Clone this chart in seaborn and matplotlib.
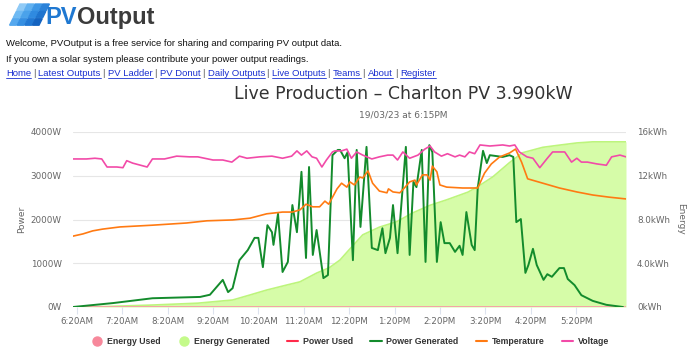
import pandas as pd
import matplotlib
matplotlib.use("Agg")
import matplotlib.pyplot as plt
from matplotlib.patches import Polygon
from matplotlib.lines import Line2D
import seaborn as sns

DAY = "2023-03-19 "

# Power generated (W)
power_times = ["06:15", "07:08", "08:00", "09:03", "09:16", "09:33", "09:40", "09:46", "09:55",
               "10:06", "10:15", "10:20", "10:26", "10:32", "10:38", "10:40", "10:46", "10:52",
               "10:59", "11:05", "11:11", "11:17", "11:23", "11:27", "11:32", "11:37", "11:46",
               "11:52", "11:58", "12:05", "12:08", "12:14", "12:18", "12:25", "12:30", "12:35",
               "12:43", "12:50", "12:58", "13:04", "13:08", "13:14", "13:18", "13:24", "13:35",
               "13:40", "13:45", "13:49", "13:56", "14:01", "14:06", "14:10", "14:16", "14:21",
               "14:26", "14:33", "14:40", "14:46", "14:50", "14:55", "15:02", "15:06", "15:10",
               "15:17", "15:22", "15:26", "15:43", "15:52", "15:57", "16:01", "16:07", "16:13",
               "16:17", "16:23", "16:28", "16:37", "16:42", "16:48", "16:58", "17:04", "17:09",
               "17:18", "17:27", "17:42", "18:00", "18:22"]
power_gen = [0, 90, 200, 230, 280, 620, 340, 430, 1070,
             1300, 1580, 1580, 910, 1870, 1710, 1420, 2130, 800,
             1030, 2330, 1710, 3090, 1120, 3200, 1190, 1760, 660,
             730, 3470, 3590, 3590, 3400, 3540, 1070, 3590, 1830,
             3660, 1350, 1300, 1800, 1230, 1580, 2330, 1230, 3660,
             1190, 2860, 2740, 3590, 1030, 3700, 3540, 1030, 1940,
             1460, 1460, 1260, 1400, 1190, 2170, 1420, 1300, 2720,
             3570, 3290, 3470, 3430, 3470, 3430, 1940, 2010, 780,
             960, 1330, 960, 620, 750, 690, 890, 890, 640,
             500, 270, 140, 50, 0]

# Energy generated (kWh)
energy_times = ["06:15", "07:00", "08:00", "09:00", "09:46", "10:09", "10:31", "10:57", "11:15",
                "11:37", "11:54", "12:08", "12:17", "12:38", "13:00", "13:23", "13:44", "14:07",
                "14:29", "14:57", "15:10", "15:30", "15:52", "16:09", "16:36", "16:58", "17:21",
                "17:42", "18:26"]
energy_gen = [0.0, 0.05, 0.18, 0.35, 0.64, 1.1, 1.55, 2.0, 2.3,
              3.1, 3.6, 4.3, 5.0, 6.6, 7.3, 7.8, 8.6, 9.3,
              9.8, 10.5, 11.0, 11.9, 13.2, 14.1, 14.6, 14.8, 15.0,
              15.1, 15.1]

# Temperature (C)
temp_times = ["06:15", "06:28", "06:41", "06:54", "07:17", "08:00", "08:45", "09:12", "09:46",
              "10:09", "10:31", "10:52", "11:05", "11:15", "11:23", "11:32", "11:41", "11:48",
              "11:53", "11:54", "12:04", "12:10", "12:17", "12:21", "12:27", "12:34", "12:38",
              "12:45", "12:51", "13:00", "13:10", "13:12", "13:18", "13:27", "13:33", "13:40",
              "13:47", "13:49", "13:57", "14:03", "14:07", "14:10", "14:16", "14:20", "14:29",
              "14:50", "14:59", "15:10", "15:19", "15:28", "15:39", "15:52", "16:00", "16:08",
              "16:16", "16:36", "16:58", "17:21", "17:42", "18:04", "18:26"]
temperature = [16.2, 16.7, 17.4, 17.8, 18.3, 18.7, 19.2, 19.7, 19.9,
               20.3, 21.3, 21.7, 21.7, 22.2, 23.5, 22.9, 22.9, 24.2,
               23.5, 23.8, 27.0, 28.3, 27.4, 28.6, 27.9, 29.7, 29.5,
               31.1, 28.3, 26.5, 26.1, 27.0, 26.3, 26.1, 27.2, 28.6,
               29.0, 27.9, 30.2, 30.2, 29.0, 32.2, 30.9, 27.9, 27.4,
               27.2, 27.2, 27.2, 30.6, 32.7, 34.3, 35.2, 36.1, 33.1,
               29.3, 28.3, 27.2, 26.3, 25.6, 25.1, 24.7]

# Voltage (V)
volt_times = ["06:15", "06:33", "06:44", "06:53", "07:00", "07:13", "07:21", "07:26", "07:34",
              "07:53", "08:00", "08:16", "08:32", "08:49", "09:00", "09:20", "09:33", "09:45",
              "09:55", "10:05", "10:22", "10:38", "10:52", "11:04", "11:11", "11:17", "11:24",
              "11:31", "11:37", "11:44", "11:50", "11:58", "12:01", "12:10", "12:17", "12:23",
              "12:30", "12:38", "12:50", "13:00", "13:11", "13:18", "13:24", "13:31", "13:40",
              "13:51", "14:00", "14:07", "14:13", "14:22", "14:30", "14:40", "14:46", "14:53",
              "14:59", "15:06", "15:13", "15:26", "15:43", "15:52", "15:59", "16:05", "16:15",
              "16:23", "16:32", "16:42", "16:49", "17:05", "17:14", "17:21", "17:27", "17:35",
              "17:47", "18:00", "18:07", "18:18", "18:26"]
voltage = [242.3, 242.3, 242.5, 242.3, 240.0, 240.0, 239.8, 241.8, 241.1,
           240.0, 242.3, 242.3, 243.1, 242.9, 242.9, 242.0, 242.0, 241.4,
           243.1, 242.5, 242.9, 243.1, 242.5, 243.1, 244.6, 243.4, 244.6,
           242.9, 242.5, 240.0, 242.0, 244.3, 244.6, 244.6, 245.1, 242.5,
           244.3, 243.4, 242.3, 242.9, 243.4, 243.4, 242.0, 244.3, 242.5,
           243.4, 245.1, 246.0, 244.3, 243.1, 243.8, 242.9, 243.4, 242.9,
           244.3, 243.8, 246.3, 246.0, 246.3, 246.0, 246.3, 244.3, 242.9,
           242.5, 239.8, 242.5, 244.3, 244.3, 241.4, 242.5, 241.4, 241.4,
           240.9, 240.5, 242.9, 243.4, 242.9]

tick_times = ["06:20", "07:20", "08:20", "09:20", "10:20", "11:20", "12:20", "13:20",
              "14:20", "15:20", "16:20", "17:20"]
tick_labels = ["6:20AM", "7:20AM", "8:20AM", "9:20AM", "10:20AM", "11:20AM", "12:20PM",
               "1:20PM", "2:20PM", "3:20PM", "4:20PM", "5:20PM"]
power_ticks = [0, 1000, 2000, 3000, 4000]
power_labels = ["0W", "1000W", "2000W", "3000W", "4000W"]
energy_ticks = [0, 4, 8, 12, 16]
energy_labels = ["0kWh", "4.0kWh", "8.0kWh", "12kWh", "16kWh"]

series_names = ["Energy Used", "Energy Generated", "Power Used", "Power Generated",
                "Temperature", "Voltage"]
colors = {"Energy Used": "#f7889b", "Energy Generated": "#c4fa8a", "Power Used": "#ff2a4a",
          "Power Generated": "#138b2c", "Temperature": "#ff7a12", "Voltage": "#f24aa8"}

to_dt = lambda ts: pd.to_datetime([DAY + t for t in ts])
df_power = pd.DataFrame({"time": to_dt(power_times), "watts": power_gen})
df_energy = pd.DataFrame({"time": to_dt(energy_times), "kwh": energy_gen,
                          "used": [0.0] * len(energy_times)})
df_temp = pd.DataFrame({"time": to_dt(temp_times), "temp": temperature})
df_volt = pd.DataFrame({"time": to_dt(volt_times), "volt": voltage})

sns.set_theme(style="white")
plt.rcParams["font.family"] = ["DejaVu Sans"]

W, H = 690, 362
fig = plt.figure(figsize=(W / 100, H / 100), dpi=100)
fig.patch.set_facecolor("white")


def fx(x):
    return x / W


def fy(y):
    return 1 - y / H


# plot area
ax_e = fig.add_axes([fx(73), fy(307), (626 - 73) / W, (307 - 132) / H])
ax_p = ax_e.twinx()
ax_t = ax_e.twinx()
ax_v = ax_e.twinx()

# energy (bottom layer)
ax_e.fill_between(df_energy["time"], df_energy["kwh"], color="#d6fca8", lw=0)
sns.lineplot(data=df_energy, x="time", y="kwh", ax=ax_e, color="#bdf57c", lw=1.2,
             errorbar=None, sort=False)
sns.lineplot(data=df_energy, x="time", y="used", ax=ax_e, color="#f4a3a6", lw=1.4,
             errorbar=None, sort=False)
ax_e.set_ylim(0, 16)
ax_e.yaxis.tick_right()
ax_e.set_yticks(energy_ticks)
ax_e.set_yticklabels(energy_labels)
ax_e.yaxis.grid(True, color="#e6e6e6", lw=0.8)
ax_e.set_axisbelow(True)
ax_e.set_ylabel("")
ax_e.set_xlabel("")

sns.lineplot(data=df_power, x="time", y="watts", ax=ax_p, color=colors["Power Generated"],
             lw=1.4, errorbar=None, sort=False)
ax_p.set_ylim(0, 4000)
ax_p.yaxis.tick_left()
ax_p.set_yticks(power_ticks)
ax_p.set_yticklabels(power_labels)
ax_p.set_ylabel("")

sns.lineplot(data=df_temp, x="time", y="temp", ax=ax_t, color=colors["Temperature"],
             lw=1.2, errorbar=None, sort=False)
ax_t.set_ylim(0, 40)
ax_t.axis("off")

sns.lineplot(data=df_volt, x="time", y="volt", ax=ax_v, color=colors["Voltage"],
             lw=1.2, errorbar=None, sort=False)
ax_v.set_ylim(200, 250)
ax_v.axis("off")

for a in (ax_e, ax_p):
    for s in a.spines.values():
        s.set_visible(False)
    a.tick_params(axis="y", length=0, labelsize=6.3, labelcolor="#666666", pad=8)

ax_e.set_xlim(pd.Timestamp(DAY + "06:15"), pd.Timestamp(DAY + "18:26"))
ax_e.set_xticks(to_dt(tick_times))
ax_e.set_xticklabels(tick_labels)
ax_e.tick_params(axis="x", length=5, width=0.8, color="#dde3ee", labelsize=6.3,
                 labelcolor="#666666", pad=2, bottom=True)

fig.text(fx(22), fy(219), "Power", rotation=90, ha="center", va="center", fontsize=6.5,
         color="#666666")
fig.text(fx(681), fy(219), "Energy", rotation=270, ha="center", va="center", fontsize=6.5,
         color="#666666")

# titles
fig.text(fx(403), fy(94), "Live Production \u2013 Charlton PV 3.990kW", ha="center",
         va="center", fontsize=12.5, color="#333333")
fig.text(fx(403), fy(115), "19/03/23 at 6:15PM", ha="center", va="center", fontsize=6.5,
         color="#666666")

# legend
handles = []
for name in series_names:
    if name.startswith("Energy"):
        handles.append(Line2D([], [], marker="o", ls="none", markersize=6.5,
                              markerfacecolor=colors[name], markeredgecolor=colors[name]))
    else:
        handles.append(Line2D([], [], color=colors[name], lw=1.5))
fig.legend(handles, series_names, loc="center", bbox_to_anchor=(fx(350), fy(342)), ncol=6,
           frameon=False, prop={"size": 6.3, "weight": "bold", "family": ["Liberation Sans"]},
           labelcolor="#333333", handlelength=1.3, handletextpad=0.5, columnspacing=2.0)

# page header: logo tiles
tile_colors = [["#8fcaf6", "#5fb0f0", "#3d97e6", "#2a82d9"],
               ["#6fbaf3", "#4aa2ea", "#2f8ae0", "#1e74cf"],
               ["#55a8ee", "#358fe2", "#2178d3", "#1463c0"]]
for r in range(3):
    for c in range(4):
        x0 = 20 + c * 7.6 - r * 3.6
        y0 = 4 + r * 7.4
        pts = [(x0, y0), (x0 + 6.6, y0), (x0 + 6.6 - 3.2, y0 + 6.4), (x0 - 3.2, y0 + 6.4)]
        fig.patches.append(Polygon([(fx(a), fy(b)) for a, b in pts], closed=True,
                                   transform=fig.transFigure, color=tile_colors[r][c]))

renderer = fig.canvas.get_renderer()
t_pv = fig.text(fx(45), fy(24), "PV", fontsize=17, weight="bold", color="#1f78d1",
                family=["Liberation Sans"], va="baseline")
bb = t_pv.get_window_extent(renderer)
fig.text(bb.x1 / W, fy(24), "Output", fontsize=17, weight="bold", color="#3b3b3b",
         family=["Liberation Sans"], va="baseline")

fig.text(fx(6), fy(44), "Welcome, PVOutput is a free service for sharing and comparing PV output data.",
         fontsize=6.8, family=["Liberation Sans"], va="center", color="#111111")
fig.text(fx(6), fy(59), "If you own a solar system please contribute your power output readings.",
         fontsize=6.8, family=["Liberation Sans"], va="center", color="#111111")

links = ["Home", "Latest Outputs", "PV Ladder", "PV Donut", "Daily Outputs", "Live Outputs",
         "Teams", "About", "Register"]
xcur = 6
for i, name in enumerate(links):
    t = fig.text(fx(xcur), fy(73), name, fontsize=6.8, family=["Liberation Sans"],
                 va="center", color="#1a2fd0")
    e = t.get_window_extent(renderer)
    fig.add_artist(Line2D([e.x0 / W, e.x1 / W], [fy(78), fy(78)], transform=fig.transFigure,
                          color="#1a2fd0", lw=0.6))
    xcur = e.x1
    if i < len(links) - 1:
        s = fig.text(fx(xcur + 1.5), fy(73), "|", fontsize=6.8, family=["Liberation Sans"],
                     va="center", color="#555555")
        se = s.get_window_extent(renderer)
        xcur = se.x1 + 3.2

plt.savefig("out.png", dpi=100)
plt.close()
